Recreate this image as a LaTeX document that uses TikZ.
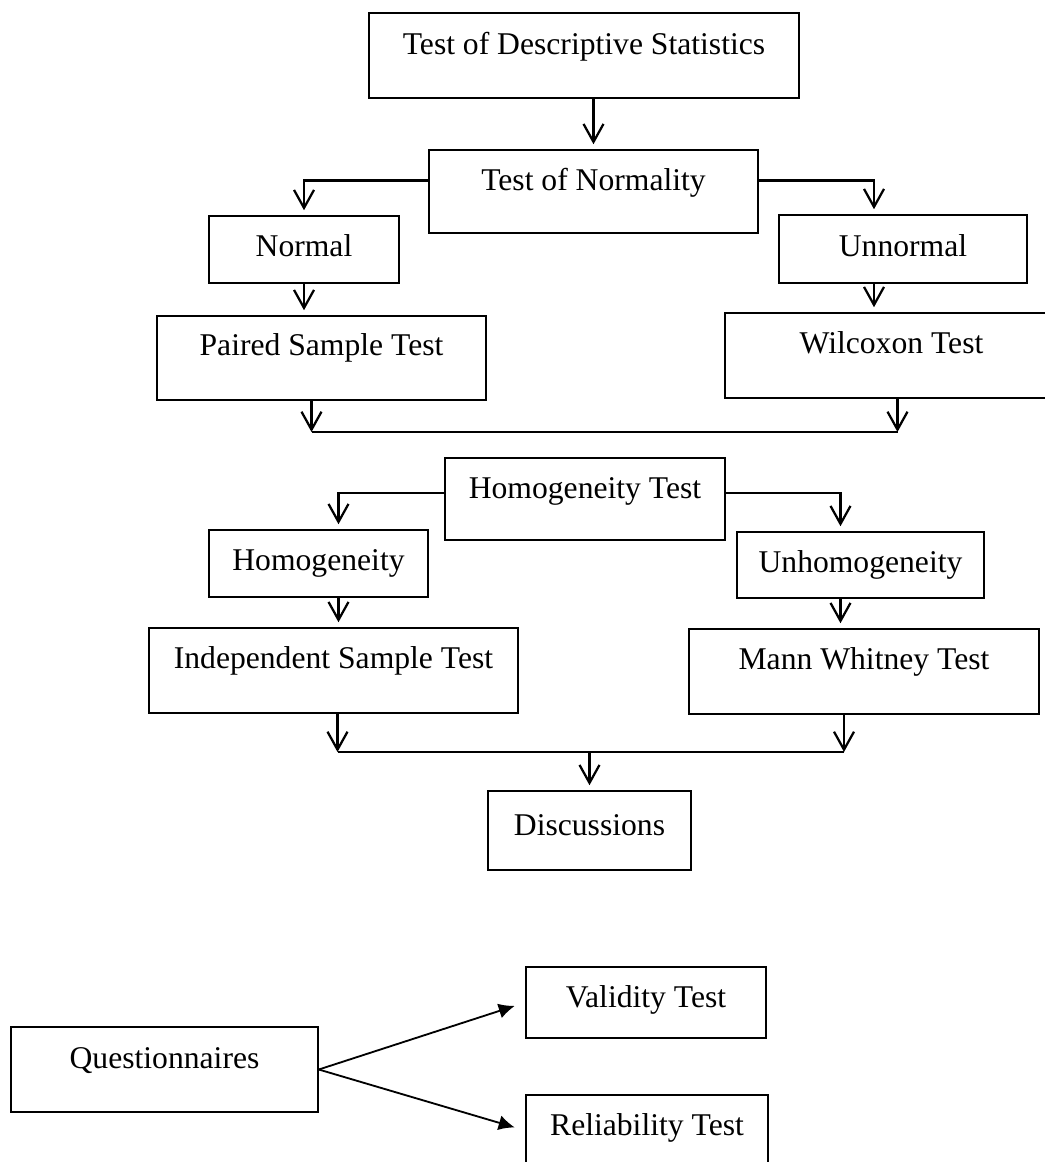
\documentclass[tikz,border=0pt]{standalone}
\usepackage{fontspec}
\setmainfont{Liberation Serif}
\usetikzlibrary{arrows.meta}

\begin{document}
\begin{tikzpicture}[
        x=0.25mm,
        y=-0.25mm,
        font=\fontsize{22.5}{27}\selectfont ,
        % on grid ,
        box/.style ={draw , line width=1.1pt , inner sep=0pt , text height=10mm},
        flow/.style ={-{Straight Barb[length=4.5mm,width=5mm]} , line width=1.6pt , shorten >=1.25mm},
        merge/.style ={flow , shorten >=0pt},
        link/.style ={line width=1.9pt},
        split/.style ={-{Latex[length=4mm,width=3.8mm]} , line width=1.3pt , shorten >=2.75mm},
    ]
    \useasboundingbox (0,0) rectangle (1044,1162);

    \node[box, minimum width=107.5mm, text height=10.25mm, text depth=11mm] (desc) at (584,55.5) {Test of Descriptive Statistics};
    \node[box, minimum width=82.25mm, text depth=10.75mm] (norm) at (593.5,191.5) {Test of Normality};
    \node[box, minimum width=47.5mm, text depth=6.75mm] (normal) at (304,249.5) {Normal};
    \node[box, minimum width=62mm, text height=10.25mm, text depth=6.75mm] (unnormal) at (903,249) {Unnormal};
    \node[box, minimum width=82.25mm, text height=9.75mm, text depth=11.25mm] (paired) at (321.5,358) {Paired Sample Test};
    \node[box, minimum width=83.25mm, text depth=11.25mm] (wilcoxon) at (891.5,355.5) {Wilcoxon Test};
    \node[box, minimum width=70mm, text depth=10.5mm] (homtest) at (585,499) {Homogeneity Test};
    \node[box, minimum width=54.75mm, text depth=6.75mm] (homog) at (318.5,563.5) {Homogeneity};
    \node[box, minimum width=61.75mm, text depth=6.5mm] (unhomog) at (860.5,565) {Unhomogeneity};
    \node[box, minimum width=92.25mm, text depth=11.25mm] (indep) at (333.5,670.5) {Independent Sample Test};
    \node[box, minimum width=87.5mm, text depth=11.25mm] (mann) at (864,671.5) {Mann Whitney Test};
    \node[box, minimum width=50.75mm, text height=11mm, text depth=8.75mm] (disc) at (589.5,830.5) {Discussions};
    \node[box, minimum width=76.75mm, text height=10.25mm, text depth=11mm] (quest) at (164.5,1069.5) {Questionnaires};
    \node[box, minimum width=60mm, text depth=7.75mm] (valid) at (646,1002.5) {Validity Test};
    \node[box, minimum width=60.5mm, text depth=7.75mm] (reliab) at (647,1130.5) {Reliability Test};

    \coordinate (joinA) at (590,432);
    \coordinate (joinB) at (590,752);

    \draw[flow] (norm.north |- desc.south) -- (norm.north);
    \draw[flow] ([yshift=1.6mm]norm.mid west) -| (normal.north);
    \draw[flow] ([yshift=1.6mm]norm.mid east) -| ([xshift=-7.25mm]unnormal.north);
    \draw[flow] (normal.south) -- (normal.south |- paired.north);
    \draw[flow] ([xshift=-7.25mm]unnormal.south) -- ([xshift=-7.25mm]unnormal.south |- wilcoxon.north);
    \draw[merge] ([xshift=-2.5mm]paired.south) -- ([xshift=-2.5mm]paired.south |- joinA);
    \draw[merge] ([xshift=1.5mm]wilcoxon.south) -- ([xshift=1.5mm]wilcoxon.south |- joinA);
    \draw[link] ([xshift=-2.5mm]paired.south |- joinA) -- ([xshift=1.5mm]wilcoxon.south |- joinA);

    \draw[flow] ([yshift=0.5mm]homtest.mid west) -| ([xshift=5mm]homog.north);
    \draw[flow] ([yshift=0.5mm]homtest.mid east) -| ([xshift=-5mm]unhomog.north);
    \draw[flow] ([xshift=5mm]homog.south) -- ([xshift=5mm]homog.south |- indep.north);
    \draw[flow] ([xshift=-5mm]unhomog.south) -- ([xshift=-5mm]unhomog.south |- mann.north);
    \draw[merge] ([xshift=1mm]indep.south) -- ([xshift=1mm]indep.south |- joinB);
    \draw[merge] ([xshift=-5mm]mann.south) -- ([xshift=-5mm]mann.south |- joinB);
    \draw[link] ([xshift=1mm]indep.south |- joinB) -- ([xshift=-5mm]mann.south |- joinB);
    \draw[flow] (disc.north |- joinB) -- (disc.north);

    \draw[split] (quest.east) -- (valid.west);
    \draw[split] (quest.east) -- (reliab.west);
\end{tikzpicture}
\end{document}
